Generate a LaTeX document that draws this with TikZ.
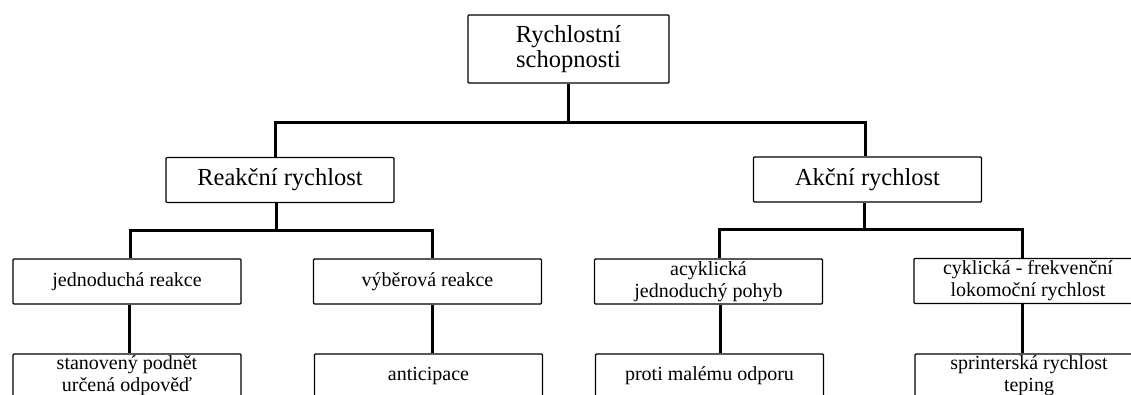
\documentclass[tikz,border=0pt]{standalone}
\usepackage{fontspec}
\setmainfont{Liberation Serif}
\usepackage{tikz}
\usetikzlibrary{backgrounds}
\tikzstyle{box}=[draw, line width=1.2pt, rounded corners=1pt, fill=white, align=center, inner sep=0pt]
\tikzstyle{hlava}=[box, minimum width=201pt, minimum height=68pt, font=\fontsize{24.5}{25}\selectfont]
\tikzstyle{druh}=[box, minimum width=228pt, minimum height=45pt, font=\fontsize{24.5}{25}\selectfont]
\tikzstyle{typ}=[box, minimum width=228pt, minimum height=45pt, font=\fontsize{20}{22}\selectfont]
\tikzstyle{prvek}=[box, minimum width=228pt, minimum height=44pt, font=\fontsize{20}{22}\selectfont]
\tikzstyle{spoj}=[line width=3pt]

\begin{document}
\begin{tikzpicture}[x=1pt, y=1pt]
	\clip (0,0) rectangle (1131,-394);
	\draw (568.5,-49) node[hlava] (rs) {Rychlostní\\schopnosti};
	\draw (280,-180) node[druh] (rr) {Reakční rychlost};
	\draw (867.5,-179.5) node[druh] (ar) {Akční rychlost};
	\draw (127,-281.5) node[typ] (jr) {jednoduchá reakce};
	\draw (427.5,-281.5) node[typ] (vr) {výběrová reakce};
	\draw (708.5,-281.5) node[typ] (ac) {acyklická\\jednoduchý pohyb};
	\draw (1028,-281) node[typ] (cy) {cyklická - frekvenční\\lokomoční rychlost};
	\draw (127,-376) node[prvek] (sp) {stanovený podnět\\určená odpověď};
	\draw (428.5,-376) node[prvek] (an) {anticipace};
	\draw (709.5,-376) node[prvek] (pm) {proti malému odporu};
	\draw (1029,-376) node[prvek] (sr) {sprinterská rychlost\\teping};
	\begin{scope}[on background layer]
		\draw[spoj] (rs.south) -- ++(0,-39) coordinate (b1);
		\draw[spoj] ([xshift=-5pt]rr.north) |- (b1) -| ([xshift=-2.5pt]ar.north);
		\draw[spoj] ([xshift=-4pt]rr.south) -- ++(0,-27) coordinate (b2);
		\draw[spoj] ([xshift=3pt]jr.north) |- (b2) -| ([xshift=4.5pt]vr.north);
		\draw[spoj] ([xshift=-3.5pt]ar.south) -- ++(0,-27) coordinate (b3);
		\draw[spoj] ([xshift=11pt]ac.north) |- (b3) -| ([xshift=-6pt]cy.north);
		\draw[spoj] ([xshift=2.5pt]jr.south) -- ([xshift=2.5pt]sp.north);
		\draw[spoj] ([xshift=4.5pt]vr.south) -- ([xshift=3.5pt]an.north);
		\draw[spoj] ([xshift=12pt]ac.south) -- ([xshift=11pt]pm.north);
		\draw[spoj] ([xshift=-6pt]cy.south) -- ([xshift=-7pt]sr.north);
	\end{scope}
\end{tikzpicture}
\end{document}
